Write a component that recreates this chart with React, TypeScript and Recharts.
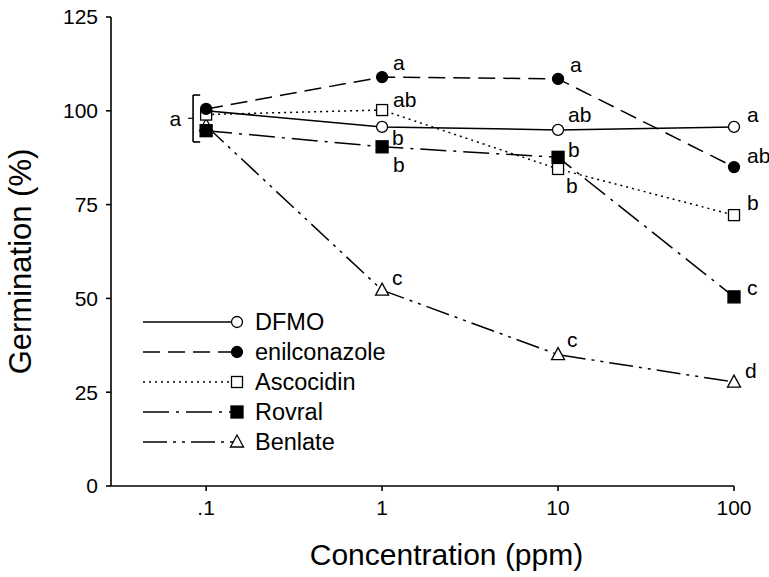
import React from "react";
import {
  LineChart,
  Line,
  XAxis,
  YAxis,
  LabelList,
  ReferenceLine,
  Label,
} from "recharts";

// concentrations (ppm) and germination (%)
const concentrations = [0.1, 1, 10, 100];
const dfmo = [100, 95.7, 94.9, 95.7];
const enilconazole = [100.5, 109, 108.5, 85.0];
const ascocidin = [99, 100.2, 84.5, 72.2];
const rovral = [94.7, 90.4, 87.6, 50.4];
const benlate = [96, 52.2, 35, 27.7];

// significance letters next to each point
const dfmoLetters = ["", "b", "ab", "a"];
const enilLetters = ["", "a", "a", "ab"];
const ascoLetters = ["", "ab", "b", "b"];
const rovralLetters = ["", "b", "b", "c"];
const benlateLetters = ["", "c", "c", "d"];

const xTicks = [0.1, 1, 10, 100];
const yTicks = [0, 25, 50, 75, 100, 125];

const FONT = "'Liberation Sans', Arial, Helvetica, sans-serif";

type Shape = "openCircle" | "filledCircle" | "openSquare" | "filledSquare" | "openTriangle";

// letter offsets (dx, baseline dy) relative to each point
const LETTER_OFFSETS: Record<string, [number, number][]> = {
  dfmo: [[0, 0], [10, 18], [10, -8], [13, -5]],
  enil: [[0, 0], [11, -7], [12, -7], [13, -4]],
  asco: [[0, 0], [11, -3], [8, 24], [13, -5]],
  rovral: [[0, 0], [11, 25], [10, 0], [13, -2]],
  benlate: [[0, 0], [10, -5], [9, -8], [11, -4]],
};

const SERIES = [
  { key: "dfmo", name: "DFMO", values: dfmo, letters: dfmoLetters, shape: "openCircle" as Shape, dash: undefined },
  { key: "benlate", name: "Benlate", values: benlate, letters: benlateLetters, shape: "openTriangle" as Shape, dash: "24 6 3 6 3 6" },
  { key: "rovral", name: "Rovral", values: rovral, letters: rovralLetters, shape: "filledSquare" as Shape, dash: "26 7 3 7" },
  { key: "asco", name: "Ascocidin", values: ascocidin, letters: ascoLetters, shape: "openSquare" as Shape, dash: "2 4" },
  { key: "enil", name: "enilconazole", values: enilconazole, letters: enilLetters, shape: "filledCircle" as Shape, dash: "17 8" },
];

const LEGEND_ORDER = ["dfmo", "enil", "asco", "rovral", "benlate"];

const data = concentrations.map((c, i) => ({
  conc: c,
  dfmo: dfmo[i],
  enil: enilconazole[i],
  asco: ascocidin[i],
  rovral: rovral[i],
  benlate: benlate[i],
}));

function Marker({ shape, cx, cy }: { shape: Shape; cx: number; cy: number }) {
  const sw = 1.3;
  switch (shape) {
    case "openCircle":
      return <circle cx={cx} cy={cy} r={5.5} fill="#fff" stroke="#000" strokeWidth={sw} />;
    case "filledCircle":
      return <circle cx={cx} cy={cy} r={5.5} fill="#000" stroke="#000" strokeWidth={sw} />;
    case "openSquare":
      return <rect x={cx - 5.5} y={cy - 5.5} width={11} height={11} fill="#fff" stroke="#000" strokeWidth={sw} />;
    case "filledSquare":
      return <rect x={cx - 6} y={cy - 6} width={12} height={12} fill="#000" stroke="#000" strokeWidth={sw} />;
    case "openTriangle":
      return (
        <path
          d={`M${cx},${cy - 7} L${cx + 6.5},${cy + 5} L${cx - 6.5},${cy + 5} Z`}
          fill="#fff"
          stroke="#000"
          strokeWidth={sw}
        />
      );
  }
}

function LegendBox() {
  const rows = LEGEND_ORDER.map((k) => SERIES.find((s) => s.key === k)!);
  return (
    <svg
      width={260}
      height={160}
      style={{ position: "absolute", left: 143, top: 310, overflow: "visible" }}
    >
      {rows.map((s, i) => {
        const y = 12 + i * 30;
        return (
          <g key={s.key}>
            <line x1={0} y1={y} x2={94} y2={y} stroke="#000" strokeWidth={1.5} strokeDasharray={s.dash} />
            <Marker shape={s.shape} cx={94} cy={y} />
            <text x={112} y={y + 8} fontSize={23.5} fontFamily={FONT} fill="#000">
              {s.name}
            </text>
          </g>
        );
      })}
    </svg>
  );
}

export default function App() {
  return (
    <div style={{ position: "absolute", left: 0, top: 0, width: 769, height: 577, background: "#fff" }}>
      <LineChart
        width={769}
        height={577}
        data={data}
        margin={{ top: 17, right: 35, bottom: 0, left: 0 }}
      >
        <XAxis
          dataKey="conc"
          type="number"
          scale="log"
          domain={[0.0288, 100]}
          ticks={xTicks}
          tickFormatter={(v: number) => (v === 0.1 ? ".1" : String(v))}
          height={91}
          tickSize={5}
          tickMargin={9}
          stroke="#000"
          strokeWidth={1.6}
          tick={{ fill: "#000", fontSize: 21, fontFamily: FONT }}
        >
          <Label
            content={({ viewBox }: any) => (
              <text
                x={viewBox.x + viewBox.width / 2 + 24}
                y={viewBox.y + 79}
                textAnchor="middle"
                fontSize={30}
                fontFamily={FONT}
                fill="#000"
              >
                Concentration (ppm)
              </text>
            )}
          />
        </XAxis>
        <YAxis
          type="number"
          domain={[0, 125]}
          ticks={yTicks}
          width={111}
          tickSize={5}
          tickMargin={8}
          stroke="#000"
          strokeWidth={1.6}
          tick={{ fill: "#000", fontSize: 21, fontFamily: FONT }}
        >
          <Label
            content={({ viewBox }: any) => {
              const x = viewBox.x + 31;
              const y = viewBox.y + viewBox.height / 2 + 10;
              return (
                <text
                  x={x}
                  y={y}
                  transform={`rotate(-90 ${x} ${y})`}
                  textAnchor="middle"
                  fontSize={31}
                  fontFamily={FONT}
                  fill="#000"
                >
                  Germination (%)
                </text>
              );
            }}
          />
        </YAxis>

        {/* bracket grouping the .1 ppm points */}
        <ReferenceLine
          segment={[{ x: 0.0843, y: 104.2 }, { x: 0.0843, y: 91.7 }]}
          stroke="#000"
          strokeWidth={1.6}
          label={{ value: "a", position: "left", offset: 12, fontSize: 21, fontFamily: FONT, fill: "#000" }}
        />
        <ReferenceLine segment={[{ x: 0.0843, y: 104.2 }, { x: 0.0925, y: 104.2 }]} stroke="#000" strokeWidth={1.6} />
        <ReferenceLine segment={[{ x: 0.0843, y: 91.7 }, { x: 0.0925, y: 91.7 }]} stroke="#000" strokeWidth={1.6} />
        <ReferenceLine segment={[{ x: 0.079, y: 98 }, { x: 0.0843, y: 98 }]} stroke="#000" strokeWidth={1.2} />

        {SERIES.map((s) => (
          <Line
            key={s.key}
            dataKey={s.key}
            name={s.name}
            type="linear"
            stroke="#000"
            strokeWidth={1.5}
            strokeDasharray={s.dash}
            isAnimationActive={false}
            dot={(p: any) => <Marker key={`${s.key}-${p.index}`} shape={s.shape} cx={p.cx} cy={p.cy} />}
            activeDot={false}
          >
            <LabelList
              dataKey={s.key}
              content={(p: any) => {
                const letter = s.letters[p.index];
                if (!letter) return null;
                const [dx, dy] = LETTER_OFFSETS[s.key][p.index];
                return (
                  <text x={p.x + dx} y={p.y + dy} fontSize={21} fontFamily={FONT} fill="#000">
                    {letter}
                  </text>
                );
              }}
            />
          </Line>
        ))}
      </LineChart>
      <LegendBox />
    </div>
  );
}
